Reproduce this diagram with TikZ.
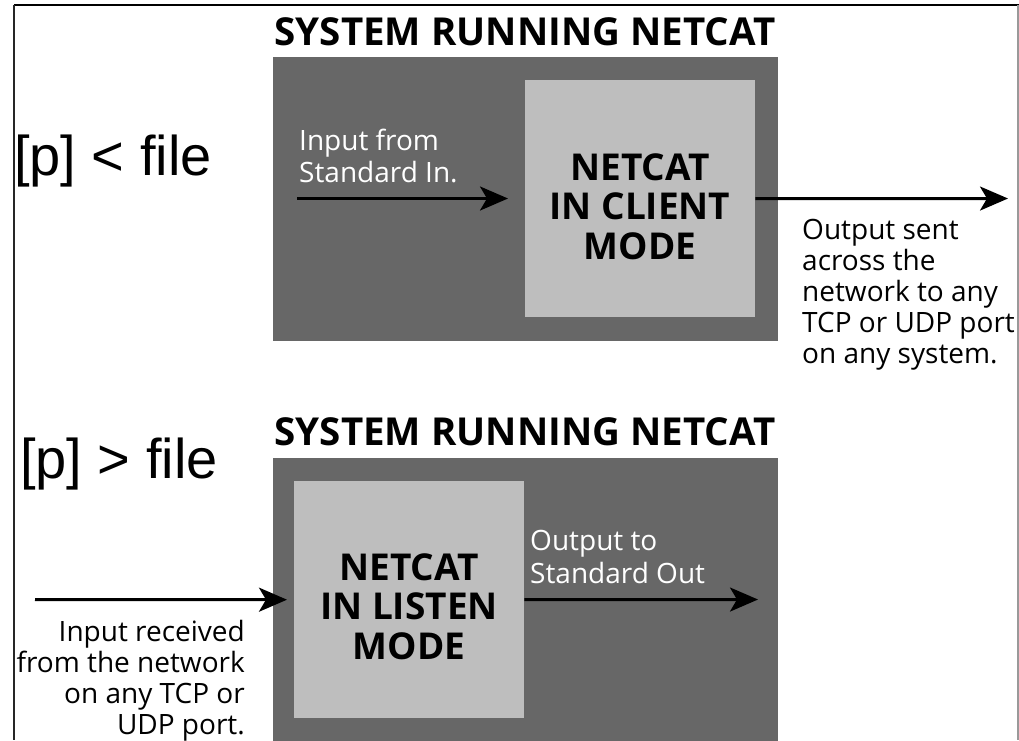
\documentclass[tikz,border=0pt]{standalone}
\usepackage{fontspec}
\setmainfont{Open Sans}
\newfontfamily\arialf{Liberation Sans}
\usetikzlibrary{arrows.meta}
\definecolor{darkgr}{HTML}{676767}
\definecolor{lightgr}{HTML}{BEBEBE}
\definecolor{framegr}{HTML}{999999}
\begin{document}
\begin{tikzpicture}[x=1pt,y=-1pt,
  darkbox/.style={fill=darkgr, draw=none, anchor=north west, inner sep=0pt},
  lightbox/.style={fill=lightgr, draw=none, anchor=north west, inner sep=0pt, minimum width=230pt, minimum height=237pt},
  titletext/.style={font=\bfseries\fontsize{38.5}{40}\selectfont, anchor=base, inner sep=0pt},
  modetext/.style={font=\bfseries\fontsize{37}{39.5}\selectfont, align=center, anchor=north, inner sep=0pt},
  labeltext/.style={font=\fontsize{28}{31}\selectfont, inner sep=0pt},
  cmdtext/.style={font=\arialf\fontsize{56}{60}\selectfont, anchor=base west, inner sep=0pt},
  arr/.style={line width=3pt, -{Stealth[length=28pt,width=24pt,inset=7pt]}}
]
\useasboundingbox (0,0) rectangle (1019,740);
\fill[white] (0,0) rectangle (1019,740);
% frame
\draw[line width=2pt] (14,5) -- (1019,5);
\draw[line width=1.5pt, black!85] (14,5) -- (14,740);
\draw[line width=1.5pt, framegr] (1018,5) -- (1018,740);

% top section
\node[titletext] (t1) at (525,45) {SYSTEM RUNNING NETCAT};
\node[darkbox, minimum width=505pt, minimum height=284pt] (sys1) at (273,57) {};
\node[lightbox] (nc1) at (525,80) {};
\node[modetext] (nc1txt) at (640,153) {NETCAT\\IN CLIENT\\MODE};
\node[labeltext, text=white, align=left, anchor=north west, font=\fontsize{28}{32}\selectfont] (in1txt) at (299,129) {Input from\\Standard In.};
\node[labeltext, align=left, anchor=north west] (out1txt) at (802,219) {Output sent\\across the\\network to any\\TCP or UDP port\\on any system.};
\node[cmdtext] (c1) at (14,175) {[p] < file};
\coordinate (in1) at (297,198.5);
\coordinate (out1) at (1008,198.5);
\draw[arr, shorten >=17pt] (in1) -- (in1 -| nc1.west);
\draw[arr] (nc1.east) -- (out1);

% bottom section
\node[titletext] (t2) at (525,445) {SYSTEM RUNNING NETCAT};
\node[darkbox, minimum width=505pt, minimum height=284pt] (sys2) at (273,458) {};
\node[lightbox] (nc2) at (294,481) {};
\node[modetext] (nc2txt) at (409,553) {NETCAT\\IN LISTEN\\MODE};
\node[labeltext, text=white, align=left, anchor=north west, font=\fontsize{28}{33}\selectfont] (out2txt) at (530,530) {Output to\\Standard Out};
\node[labeltext, align=right, anchor=north east] (in2txt) at (245,620) {Input received\\from the network\\on any TCP or\\UDP port.};
\node[cmdtext] (c2) at (20,478) {[p] > file};
\coordinate (in2) at (35,599.5);
\coordinate (out2) at (758,599.5);
\draw[arr, shorten >=7pt] (in2) -- (nc2.west);
\draw[arr] (nc2.east) -- (out2);
\end{tikzpicture}
\end{document}
